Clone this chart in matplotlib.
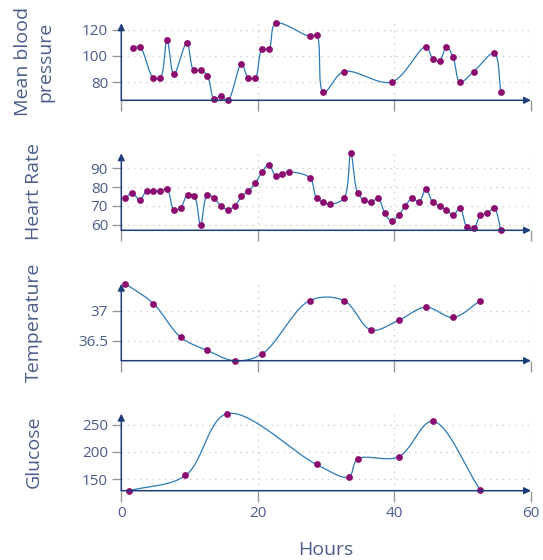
import matplotlib.pyplot as plt
import numpy as np

# vital signs over time (hours)
mbp_hours = [1.7, 2.7, 4.7, 5.7, 6.7, 7.7, 9.6, 10.6, 11.6, 12.6, 13.6, 14.6, 15.6,
             17.6, 18.6, 19.6, 20.6, 21.6, 22.6, 27.6, 28.6, 29.6, 32.6, 39.6,
             44.6, 45.6, 46.6, 47.6, 48.6, 49.6, 51.6, 54.6, 55.6]
mbp = [106, 107, 83, 83, 112, 86, 110, 89, 89, 85, 67, 69, 66,
       94, 83, 83, 105, 105, 125, 115, 116, 72, 88, 80,
       107, 98, 96, 107, 99, 80, 88, 102, 72]

hr_hours = [0.6, 1.6, 2.7, 3.7, 4.7, 5.7, 6.7, 7.7, 8.7, 9.7, 10.7, 11.6, 12.6, 13.6,
            14.6, 15.6, 16.6, 17.6, 18.6, 19.6, 20.6, 21.6, 22.6, 23.6, 24.6,
            27.6, 28.6, 29.6, 30.6, 32.6, 33.6, 34.6, 35.6, 36.6, 37.6, 38.6,
            39.6, 40.6, 41.6, 42.6, 43.6, 44.6, 45.6, 46.6, 47.6, 48.6, 49.6,
            50.6, 51.6, 52.6, 53.6, 54.6, 55.6]
hr = [74, 77, 73, 78, 78, 78, 79, 68, 69, 76, 75, 60, 76, 74,
      70, 68, 70, 75, 78, 82, 88, 92, 86, 87, 88,
      85, 74, 72, 71, 74, 98, 77, 73, 72, 74, 66,
      62, 65, 70, 74, 72, 79, 72, 70, 68, 65, 69,
      59, 58, 65, 66, 69, 57]

temp_hours = [0.6, 4.7, 8.7, 12.6, 16.6, 20.6, 27.6, 32.6, 36.6, 40.6, 44.6, 48.6, 52.6]
temp = [37.45, 37.12, 36.56, 36.34, 36.17, 36.28, 37.17, 37.17, 36.68, 36.84, 37.06, 36.89, 37.17]

glu_hours = [1.2, 9.4, 15.5, 28.6, 33.3, 34.6, 40.6, 45.6, 52.6]
glucose = [129, 157, 270, 177, 154, 187, 191, 256, 130]

panels = [
    ("Mean blood\npressure", mbp_hours, mbp, [80, 100, 120], ["80", "100", "120"]),
    ("Heart Rate", hr_hours, hr, [60, 70, 80, 90], ["60", "70", "80", "90"]),
    ("Temperature", temp_hours, temp, [36.5, 37], ["36.5", "37"]),
    ("Glucose", glu_hours, glucose, [150, 200, 250], ["150", "200", "250"]),
]

x_ticks = [0, 20, 40, 60]

TEXT = "#4a5d8c"
AXIS = "#1f3d7a"
LINE = "#2a7ab8"
DOT = "#8b0b6f"

plt.rcParams['font.family'] = ['Open Sans', 'DejaVu Sans']


def catmull_rom(x, y, sx, sy, n=30, alpha=0.5):
    # centripetal catmull-rom, computed in pixel-like space
    p = np.column_stack([np.asarray(x) * sx, np.asarray(y) * sy])
    p = np.vstack([2 * p[0] - p[1], p, 2 * p[-1] - p[-2]])
    out = []
    for i in range(1, len(p) - 2):
        P0, P1, P2, P3 = p[i - 1], p[i], p[i + 1], p[i + 2]
        t0 = 0.0
        t1 = t0 + max(np.linalg.norm(P1 - P0), 1e-6) ** alpha
        t2 = t1 + max(np.linalg.norm(P2 - P1), 1e-6) ** alpha
        t3 = t2 + max(np.linalg.norm(P3 - P2), 1e-6) ** alpha
        t = np.linspace(t1, t2, n)[:, None]
        A1 = (t1 - t) / (t1 - t0) * P0 + (t - t0) / (t1 - t0) * P1
        A2 = (t2 - t) / (t2 - t1) * P1 + (t - t1) / (t2 - t1) * P2
        A3 = (t3 - t) / (t3 - t2) * P2 + (t - t2) / (t3 - t2) * P3
        B1 = (t2 - t) / (t2 - t0) * A1 + (t - t0) / (t2 - t0) * A2
        B2 = (t3 - t) / (t3 - t1) * A2 + (t - t1) / (t3 - t1) * A3
        C = (t2 - t) / (t2 - t1) * B1 + (t - t1) / (t2 - t1) * B2
        out.append(C)
    c = np.vstack(out)
    return c[:, 0] / sx, c[:, 1] / sy


fig = plt.figure(figsize=(5.43, 5.6), dpi=100)
W, H = 543, 560
left, right = 121.3, 531.0
bottoms = [100.3, 230.3, 360.7, 490.7]
ax_h = 77

for i, (label, xs, ys, yt, ytl) in enumerate(panels):
    ax = fig.add_axes([left / W, 1 - bottoms[i] / H, (right - left) / W, ax_h / H])
    ymin, ymax = min(ys), max(ys)
    sx = (right - left) / 60
    sy = ax_h / (ymax - ymin)
    cx, cy = catmull_rom(xs, ys, sx, sy)
    ax.plot(cx, cy, color=LINE, lw=0.9, clip_on=False, zorder=3)
    ax.scatter(xs, ys, s=24, color=DOT, zorder=4, clip_on=False, linewidths=0)
    ax.set_xlim(0, 60)
    ax.set_ylim(ymin, ymax)

    for s in ax.spines.values():
        s.set_visible(False)
    ax.annotate("", xy=(1, 0), xytext=(0, 0), xycoords="axes fraction",
                arrowprops=dict(arrowstyle="-|>", color=AXIS, lw=1.1, mutation_scale=10,
                                shrinkA=0, shrinkB=0), zorder=5)
    ax.annotate("", xy=(0, 1), xytext=(0, 0), xycoords="axes fraction",
                arrowprops=dict(arrowstyle="-|>", color=AXIS, lw=1.1, mutation_scale=10,
                                shrinkA=0, shrinkB=0), zorder=5)

    ax.set_xticks(x_ticks)
    ax.set_yticks(yt)
    ax.set_yticklabels(ytl)
    ax.tick_params(axis="y", length=6.5, width=1, color="#999999", labelcolor=TEXT,
                   labelsize=11, pad=3)
    ax.tick_params(axis="x", length=8, width=1, color="#999999", labelcolor=TEXT,
                   labelsize=11, pad=3)
    if i < 3:
        ax.set_xticklabels([])
    ax.grid(True, color="#c8c8c8", linestyle=(0, (1, 4)), linewidth=0.9)
    ax.set_axisbelow(True)
    ax.set_facecolor("none")

    ax.set_ylabel(label, fontsize=14, color=TEXT, va="center", linespacing=1.3)
    ax.yaxis.set_label_coords(-0.213, 0.5)

    if i == 3:
        ax.set_xlabel("Hours", fontsize=14, color=TEXT, va="center")
        ax.xaxis.set_label_coords(0.5, -0.77)

plt.savefig("out.png", dpi=100)
